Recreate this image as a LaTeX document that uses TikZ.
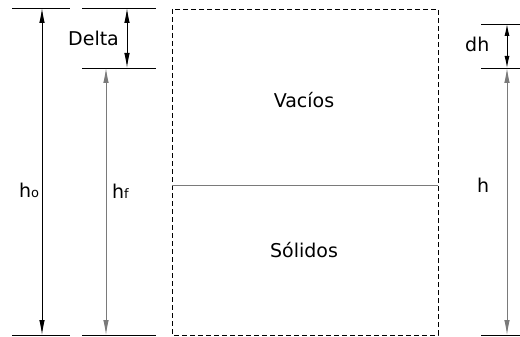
\documentclass[tikz,border=0pt]{standalone}
\usepackage{fontspec}
\setmainfont{DejaVu Sans}
\usetikzlibrary{arrows.meta}
\definecolor{dimgray}{HTML}{7A7A7A}
\tikzset{
  ext/.style={line width=0.9pt,black},
  dim/.style={line width=0.9pt,{Latex[length=15pt,width=5.5pt]}-{Latex[length=15pt,width=5.5pt]}},
  lbl/.style={font=\fontsize{19}{22}\selectfont,inner sep=0pt,anchor=base west},
}
\newcommand{\smallsub}[1]{\raisebox{-0.5pt}{\fontsize{13}{13}\selectfont #1}}
\begin{document}
\begin{tikzpicture}[x=1pt,y=-1pt]
\useasboundingbox (0,0) rectangle (520,337);
% extension lines
\coordinate (t1a) at (12,8);   \coordinate (t1b) at (70,8);
\coordinate (t2a) at (82,8);   \coordinate (t2b) at (156,8);
\coordinate (m2a) at (82,68);  \coordinate (m2b) at (156,68);
\coordinate (b1a) at (12,335); \coordinate (b1b) at (70,335);
\coordinate (b2a) at (82,335); \coordinate (b2b) at (156,335);
\coordinate (r1a) at (481,24); \coordinate (r1b) at (520,24);
\coordinate (r2a) at (481,68); \coordinate (r2b) at (520,68);
\coordinate (r3a) at (481,335);\coordinate (r3b) at (520,335);
\draw[ext] (t1a) -- (t1b);
\draw[ext] (t2a) -- (t2b);
\draw[ext] (m2a) -- (m2b);
\draw[ext] (b1a) -- (b1b);
\draw[ext] (b2a) -- (b2b);
\draw[ext] (r1a) -- (r1b);
\draw[ext] (r2a) -- (r2b);
\draw[ext] (r3a) -- (r3b);
% dimension arrows
\coordinate (hoT) at (42,8);   \coordinate (hoB) at (42,335);
\coordinate (hfT) at (106,68); \coordinate (hfB) at (106,335);
\coordinate (dT) at (127,8);   \coordinate (dB) at (127,68);
\coordinate (dhT) at (507,24); \coordinate (dhB) at (507,68);
\coordinate (hT) at (507,68);  \coordinate (hB) at (507,335);
\draw[dim,black] (hoT) -- (hoB);
\draw[dim,dimgray] (hfT) -- (hfB);
\draw[dim,black] (dT) -- (dB);
\draw[dim,black,{Latex[length=12pt,width=5pt]}-{Latex[length=12pt,width=5pt]}] (dhT) -- (dhB);
\draw[dim,dimgray] (hT) -- (hB);
% sample
\coordinate (boxTL) at (172,9);
\coordinate (boxBR) at (438,335);
\draw[line width=0.8pt,dash pattern=on 5pt off 3pt] (boxTL) rectangle (boxBR);
\coordinate (sepL) at (172,185); \coordinate (sepR) at (438,185);
\draw[line width=0.9pt,dimgray] (sepL) -- (sepR);
% labels
\node[lbl] (lho) at (19,197) {h\smallsub{o}};
\node[lbl] (lhf) at (112,198) {h\smallsub{f}};
\node[lbl] (ldelta) at (68,46) {Delta};
\node[lbl] (ldh) at (465,52) {dh};
\node[lbl] (lh) at (477,192) {h};
\node[lbl,anchor=base] (lvac) at (304,107) {Vacíos};
\node[lbl,anchor=base] (lsol) at (304,257) {Sólidos};
\end{tikzpicture}
\end{document}
